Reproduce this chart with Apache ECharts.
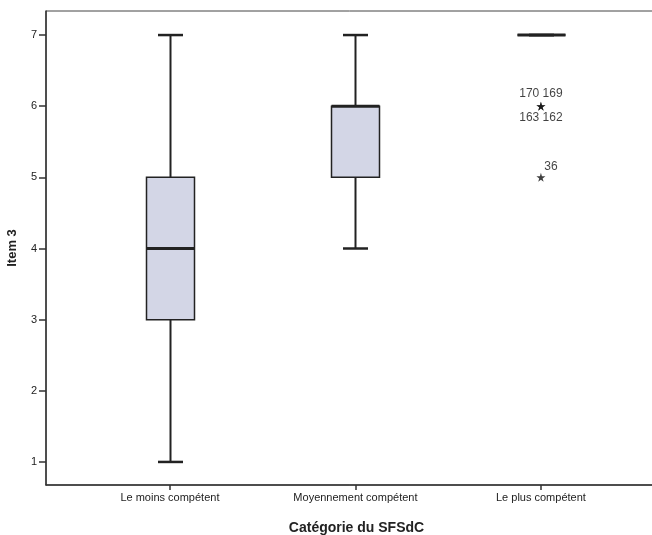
<!DOCTYPE html>
<html>
<head>
<meta charset="utf-8">
<script src="https://cdn.jsdelivr.net/npm/echarts@6/dist/echarts.min.js"></script>
<style>
  html, body { margin: 0; padding: 0; background: #fff; }
  #chart { width: 652px; height: 535px; }
</style>
</head>
<body>
<div id="chart"></div>
<script>
// Item 3 scores by SFSdC category
const categories = ['Le moins compétent', 'Moyennement compétent', 'Le plus compétent'];
const whiskerLow = [1, 4, 7];
const quartile1 = [3, 5, 7];
const medians = [4, 6, 7];
const quartile3 = [5, 6, 7];
const whiskerHigh = [7, 7, 7];

// Extreme values (case numbers shown next to the stars)
const outlierCategory = [2, 2, 2];
const outlierValues = [6, 6, 5];
const outlierLabels = ['170 169', '163 162', '36'];

const yTicks = [1, 2, 3, 4, 5, 6, 7];
const xTicks = [0, 1, 2];

const BOX_W = 48;
const CAP_W = 25;
const INK = '#222';
const FILL = '#d3d6e6';
const FONT = 'Liberation Sans, Arial, sans-serif';
const STAR = 'path://M50,0 L61,35 L98,35 L68,57 L79,91 L50,70 L21,91 L32,57 L2,35 L39,35 Z';

const boxData = categories.map((c, i) => [i, whiskerLow[i], quartile1[i], medians[i], quartile3[i], whiskerHigh[i]]);

function renderBox(params, api) {
  const x = api.value(0);
  const lo = api.coord([x, api.value(1)]);
  const q1 = api.coord([x, api.value(2)]);
  const md = api.coord([x, api.value(3)]);
  const q3 = api.coord([x, api.value(4)]);
  const hi = api.coord([x, api.value(5)]);
  const cx = Math.round(lo[0]) + 0.5;
  const h = BOX_W / 2, c = CAP_W / 2;
  const line = (x1, y1, x2, y2, w) => ({
    type: 'line',
    shape: { x1, y1, x2, y2 },
    style: { stroke: INK, lineWidth: w }
  });
  return {
    type: 'group',
    children: [
      line(cx, q1[1], cx, lo[1], 2),
      line(cx, q3[1], cx, hi[1], 2),
      line(cx - c, lo[1], cx + c, lo[1], 2.5),
      line(cx - c, hi[1], cx + c, hi[1], 2.5),
      {
        type: 'rect',
        shape: { x: cx - h, y: q3[1], width: BOX_W, height: q1[1] - q3[1] },
        style: { fill: FILL, stroke: INK, lineWidth: 1.5 }
      },
      line(cx - h, md[1], cx + h, md[1], 3)
    ]
  };
}

const outlierLabelStyles = [
  { position: 'top', distance: 2 },
  { position: 'bottom', distance: 1 },
  { position: 'top', distance: 0, offset: [10, 0] }
];

const outlierPoints = outlierValues.map((v, i) => ({
  value: [outlierCategory[i], v],
  label: Object.assign({
    show: true,
    formatter: outlierLabels[i],
    color: '#111',
    fontSize: 12,
    fontFamily: FONT
  }, outlierLabelStyles[i])
}));

const chart = echarts.init(document.getElementById('chart'), null, { renderer: 'canvas' });
chart.setOption({
  animation: false,
  backgroundColor: '#fff',
  grid: {
    left: 46, right: -3, top: 11, bottom: 50,
    outerBoundsMode: 'none',
    containLabel: false,
    show: true, borderColor: '#444', borderWidth: 1
  },
  xAxis: {
    type: 'value',
    min: -0.668,
    max: 2.615,
    splitLine: { show: false },
    axisLine: { show: true, onZero: false, lineStyle: { color: '#333', width: 1.5 } },
    axisTick: { show: true, customValues: xTicks, length: 5, lineStyle: { color: '#333', width: 1.5 } },
    axisLabel: {
      customValues: xTicks,
      formatter: v => categories[Math.round(v)],
      color: '#222', fontSize: 11, margin: 7,
      fontFamily: FONT
    },
    name: 'Catégorie du SFSdC',
    nameLocation: 'middle',
    nameGap: 36,
    nameTextStyle: {
      fontSize: 14, fontWeight: 'bold', color: '#222',
      padding: [0, 0, 0, 12],
      fontFamily: FONT
    }
  },
  yAxis: {
    type: 'value',
    min: 0.676,
    max: 7.338,
    splitLine: { show: false },
    axisLine: { show: true, onZero: false, lineStyle: { color: '#333', width: 1.5 } },
    axisTick: { show: true, customValues: yTicks, length: 7, lineStyle: { color: '#333', width: 1.5 } },
    axisLabel: {
      customValues: yTicks,
      color: '#222', fontSize: 11, margin: 9,
      fontFamily: FONT
    },
    name: 'Item 3',
    nameLocation: 'middle',
    nameGap: 27,
    nameTextStyle: {
      fontSize: 13, fontWeight: 'bold', color: '#222',
      fontFamily: FONT
    }
  },
  series: [
    {
      type: 'custom',
      renderItem: renderBox,
      encode: { x: 0, y: [1, 2, 3, 4, 5] },
      data: boxData,
      clip: false
    },
    {
      type: 'scatter',
      symbol: STAR,
      symbolSize: 9,
      itemStyle: { color: '#111' },
      data: outlierPoints
    }
  ]
});
</script>
</body>
</html>
